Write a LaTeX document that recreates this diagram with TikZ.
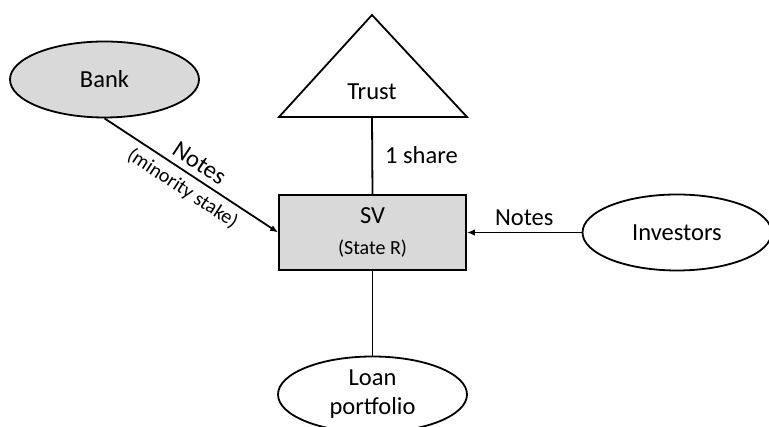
\documentclass[tikz,border=0pt]{standalone}
\usepackage{fontspec}
\setmainfont{Carlito}
\usepackage{xcolor}
\usepackage{tikz}
\usetikzlibrary{positioning,calc,shapes.geometric,arrows.meta}
\definecolor{fillgray}{HTML}{D9D9D9}
\definecolor{ink}{HTML}{000000}
\tikzset{
  party/.style    = {ellipse, draw=ink, line width=1.8pt, minimum width=189pt, minimum height=76pt, inner sep=0pt,
                     align=center, font=\fontsize{24.5}{29}\selectfont},
  partygray/.style = {party, fill=fillgray},
  vehicle/.style  = {rectangle, draw=ink, fill=fillgray, line width=1.8pt, minimum width=187pt, minimum height=75pt,
                     inner sep=0pt, align=center, font=\fontsize{24.5}{27}\selectfont},
  lab/.style      = {font=\fontsize{24.5}{29}\selectfont, inner sep=0pt},
  labsm/.style    = {font=\fontsize{20}{24}\selectfont, inner sep=0pt},
  link/.style     = {draw=ink, line width=1.8pt},
  flow/.style     = {-{Latex[length=8pt,width=6.5pt]}, draw=ink, line width=1.8pt},
}

\begin{document}
\begin{tikzpicture}[x=1pt,y=1pt]
\useasboundingbox (0,0) rectangle (769,427);

% ---- the vehicle and the trust above it ---------------------------------
\node[vehicle] (sv) at (372.5,194.5) {SV\\[4pt]{\fontsize{20}{24}\selectfont (State R)}};

\draw[link, line join=miter] (372,412) -- (467,310) -- (279,310) -- cycle;
\coordinate (trustbase) at (372,310);
\node[lab] (trust) at (372,335) {Trust};

% ---- parties -------------------------------------------------------------
\node[partygray] (bank)      at (104.5,347.5) {Bank};
\node[party]     (investors) at (677,194.5)   {Investors};
\node[party]     (loan)      at (372.5,32.5)  {Loan\\portfolio};

% ---- connectors ----------------------------------------------------------
\draw[link] (trustbase) -- (sv.north)
  node[lab, midway, right=12pt] (share) {1 share};

\draw[flow] (bank.south) -- (sv.west)
  node[lab, midway, sloped, above=6pt] (banknotes) {Notes}
  node[labsm, midway, sloped, below=6pt] (stake) {(minority stake)};

\draw[flow] (investors.west) -- (sv.east)
  node[lab, midway, above=6pt] (invnotes) {Notes};

\draw[link] (sv.south) -- (loan.north);

\end{tikzpicture}
\end{document}
